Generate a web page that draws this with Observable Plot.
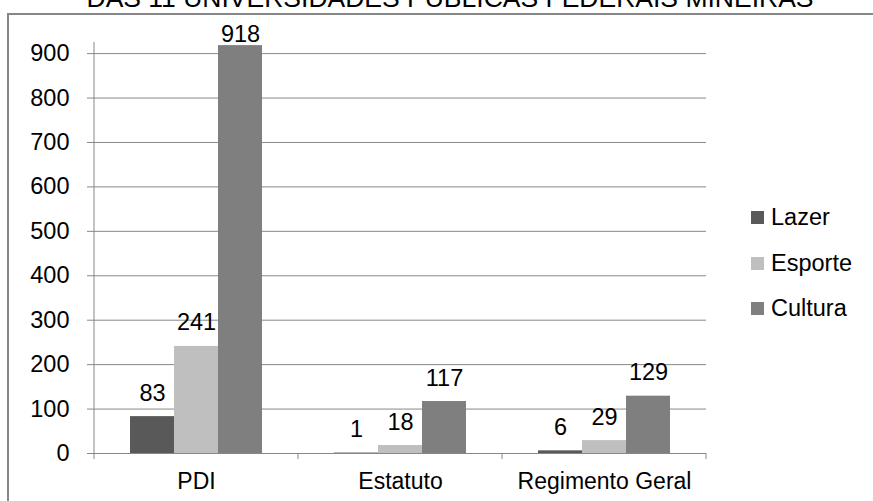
<!DOCTYPE html>
<html><head><meta charset="utf-8">
<script src="https://cdn.jsdelivr.net/npm/d3@7"></script>
<script src="https://cdn.jsdelivr.net/npm/@observablehq/plot@0.6"></script>
<style>
body{margin:0;background:#fff;overflow:hidden;font-family:Arial,"Liberation Sans",sans-serif;}
#wrap{position:relative;width:873px;height:501px;overflow:hidden;}
#title{position:absolute;left:0;width:900px;top:-15px;text-align:center;font-size:26.5px;line-height:26.5px;color:#000;white-space:nowrap;}
#box{position:absolute;left:7px;top:13px;width:1000px;height:1000px;border-left:2px solid #878787;border-top:2px solid #878787;}
#chart{position:absolute;left:0;top:0;}
#legend{position:absolute;left:751px;top:211px;}
.row{position:absolute;left:0;display:flex;align-items:center;height:13px;white-space:nowrap;}
.sw{width:13px;height:13px;margin-right:7px;}
.lab{font-size:23.5px;line-height:13px;color:#000;}
</style></head><body>
<div id="wrap">
<div id="title">DAS 11 UNIVERSIDADES PÚBLICAS FEDERAIS MINEIRAS</div>
<div id="box"></div>
<div id="chart"></div>
<div id="legend"></div>
</div>
<script>
const categories = ["PDI", "Estatuto", "Regimento Geral"];
const series = ["Lazer", "Esporte", "Cultura"];
const lazer = [83, 1, 6];
const esporte = [241, 18, 29];
const cultura = [918, 117, 129];
const colors = ["#595959", "#bfbfbf", "#7f7f7f"];
const yTicks = [0, 100, 200, 300, 400, 500, 600, 700, 800, 900];
const yMax = 925;

const valuesBySeries = {Lazer: lazer, Esporte: esporte, Cultura: cultura};
const rows = categories.flatMap((c, i) => series.map(s => ({category: c, series: s, value: valuesBySeries[s][i]})));

const font = 'Arial, "Liberation Sans", sans-serif';
const gray = "#878787";

const plot = Plot.plot({
  width: 873, height: 501,
  marginLeft: 93, marginRight: 166, marginTop: 42, marginBottom: 48,
  style: {background: "transparent", fontFamily: font, fontSize: "23px", color: "#000", overflow: "visible"},
  fx: {domain: categories, padding: 0, label: null},
  x: {domain: series, paddingInner: 0, paddingOuter: 0.78, axis: null},
  y: {domain: [0, yMax], label: null},
  color: {domain: series, range: colors},
  marks: [
    Plot.gridY(yTicks, {stroke: gray, strokeOpacity: 1, strokeWidth: 1}),
    Plot.barY(rows, {fx: "category", x: "series", y: "value", fill: "series"}),
    Plot.ruleY([0], {stroke: gray, strokeWidth: 1}),
    Plot.axisY(yTicks, {tickSize: 7, tickPadding: 18, stroke: gray, fill: "#000", fontSize: 23.5, label: null}),
    Plot.axisFx({anchor: "bottom", tickSize: 0, tickPadding: 19, fill: "#000", fontSize: 23, label: null}),
    Plot.text(rows.filter(d => d.value < 900), {fx: "category", x: "series", y: "value", text: d => String(d.value), lineAnchor: "bottom", dy: -16, fontSize: 23.5, fill: "#000"}),
    Plot.text(rows.filter(d => d.value >= 900), {fx: "category", x: "series", y: "value", text: d => String(d.value), lineAnchor: "bottom", dy: -4, fontSize: 23.5, fill: "#000"})
  ]
});
document.getElementById("chart").appendChild(plot);

// axis line and category boundary ticks, derived from the plot's scales
const fxS = plot.scale("fx");
const yS = plot.scale("y");
const bw = fxS.bandwidth;
const edges = categories.map(c => fxS.apply(c)).concat([fxS.apply(categories[categories.length - 1]) + bw]);
const y0 = yS.apply(0);
const yTop = yS.apply(yMax);
const svg = d3.select(plot);
svg.append("line").attr("x1", edges[0]).attr("x2", edges[0]).attr("y1", yTop).attr("y2", y0 + 0.5)
  .attr("stroke", gray).attr("stroke-width", 1);
svg.selectAll("line.edge").data(edges).join("line").attr("class", "edge")
  .attr("x1", d => d).attr("x2", d => d).attr("y1", y0).attr("y2", y0 + 6)
  .attr("stroke", gray).attr("stroke-width", 1);

// legend
const colorS = plot.scale("color");
const legend = d3.select("#legend");
series.forEach((s, i) => {
  const r = legend.append("div").attr("class", "row").style("top", (i * 45.5) + "px");
  r.append("div").attr("class", "sw").style("background", colorS.apply(s));
  r.append("div").attr("class", "lab").text(s);
});
</script>
</body></html>
